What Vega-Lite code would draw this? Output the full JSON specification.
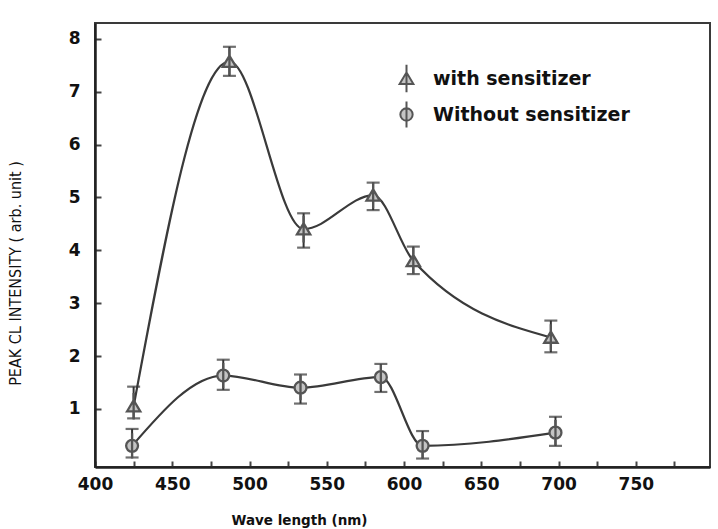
{
  "$schema": "https://vega.github.io/schema/vega-lite/v6.json",
  "width": 615,
  "height": 444,
  "autosize": "none",
  "padding": {"left": 95, "top": 23, "right": 8, "bottom": 62},
  "background": "white",
  "config": {
    "view": {"stroke": "#3a3a3a", "strokeWidth": 2},
    "axis": {"grid": false},
    "legend": {"symbolStrokeWidth": 2, "symbolSize": 210}
  },
  "data": {
    "values": [
      {"series": "with sensitizer", "wl": 425, "val": 1.05, "lo": 0.82, "hi": 1.42},
      {"series": "with sensitizer", "wl": 487, "val": 7.57, "lo": 7.3, "hi": 7.85},
      {"series": "with sensitizer", "wl": 535, "val": 4.4, "lo": 4.05, "hi": 4.7},
      {"series": "with sensitizer", "wl": 580, "val": 5.04, "lo": 4.76, "hi": 5.28},
      {"series": "with sensitizer", "wl": 606, "val": 3.8, "lo": 3.55, "hi": 4.07},
      {"series": "with sensitizer", "wl": 695, "val": 2.35, "lo": 2.07, "hi": 2.67},
      {"series": "Without sensitizer", "wl": 424, "val": 0.3, "lo": 0.08, "hi": 0.62},
      {"series": "Without sensitizer", "wl": 483, "val": 1.63, "lo": 1.36, "hi": 1.93},
      {"series": "Without sensitizer", "wl": 533, "val": 1.4, "lo": 1.1, "hi": 1.65},
      {"series": "Without sensitizer", "wl": 585, "val": 1.6, "lo": 1.32, "hi": 1.85},
      {"series": "Without sensitizer", "wl": 612, "val": 0.3, "lo": 0.06, "hi": 0.58},
      {"series": "Without sensitizer", "wl": 698, "val": 0.55, "lo": 0.3, "hi": 0.85}
    ]
  },
  "encoding": {
    "x": {
      "field": "wl", "type": "quantitative",
      "scale": {"domain": [400, 798], "nice": false, "zero": false},
      "axis": {
        "title": "Wave length (nm)",
        "values": [400, 425, 450, 475, 500, 525, 550, 575, 600, 625, 650, 675, 700, 725, 750, 775],
        "labelExpr": "datum.value % 50 == 0 && datum.value <= 750 ? datum.label : ''",
        "labelFlush": false,
        "labelFont": "DejaVu Sans", "labelFontWeight": "bold", "labelFontSize": 17, "labelColor": "#111",
        "labelPadding": 15,
        "tickSize": -6, "tickWidth": 2, "tickColor": "#444",
        "domainColor": "#222", "domainWidth": 2.5,
        "titleFont": "DejaVu Sans", "titleFontWeight": "bold", "titleFontSize": 13.5, "titleColor": "#111",
        "titleX": 204, "titleY": 53, "titleAlign": "center", "titleBaseline": "middle"
      }
    },
    "y": {
      "type": "quantitative",
      "scale": {"domain": [-0.1, 8.3], "nice": false, "zero": false},
      "axis": {
        "title": "PEAK CL INTENSITY ( arb. unit )",
        "values": [1, 2, 3, 4, 5, 6, 7, 8],
        "labelFlush": false,
        "labelFont": "DejaVu Sans", "labelFontWeight": "bold", "labelFontSize": 17, "labelColor": "#111",
        "labelPadding": 21,
        "tickSize": -6, "tickWidth": 2, "tickColor": "#444",
        "domainColor": "#222", "domainWidth": 2.5,
        "titleFont": "DejaVu Sans Condensed", "titleFontWeight": "normal",
        "titleFontSize": 16, "titleColor": "#111",
        "titleX": -80, "titleY": 250, "titleAlign": "center", "titleBaseline": "middle"
      }
    }
  },
  "layer": [
    {
      "mark": {"type": "line", "interpolate": "monotone", "color": "#3a3a3a", "strokeWidth": 2.2},
      "encoding": {"y": {"field": "val"}, "detail": {"field": "series"}}
    },
    {
      "mark": {"type": "rule", "color": "#333", "strokeWidth": 2},
      "encoding": {"y": {"field": "lo"}, "y2": {"field": "hi"}}
    },
    {
      "mark": {"type": "tick", "orient": "horizontal", "color": "#333", "size": 13, "thickness": 2.2},
      "encoding": {"y": {"field": "lo"}}
    },
    {
      "mark": {"type": "tick", "orient": "horizontal", "color": "#333", "size": 13, "thickness": 2.2},
      "encoding": {"y": {"field": "hi"}}
    },
    {
      "mark": {"type": "point", "size": 196, "strokeWidth": 2.3, "opacity": 1, "filled": false},
      "encoding": {
        "y": {"field": "val"},
        "color": {
          "field": "series", "type": "nominal",
          "scale": {"domain": ["with sensitizer", "Without sensitizer"], "range": ["#555555", "#555555"]},
          "legend": {
            "title": null, "orient": "none", "legendX": 302, "legendY": 46,
            "padding": 0, "symbolSize": 210, "symbolStrokeWidth": 2,
            "labelOffset": 17, "rowPadding": 0, "labelLimit": 0,
            "labelFont": "DejaVu Sans", "labelFontWeight": "bold", "labelFontSize": 19, "labelColor": "#111"
          }
        },
        "shape": {
          "field": "series", "type": "nominal",
          "scale": {
            "domain": ["with sensitizer", "Without sensitizer"],
            "range": ["M-0.95,0.75L0,-0.85L0.95,0.75ZM0,-1.9V1.9", "M-0.85,0A0.85,0.85 0 1,0 0.85,0A0.85,0.85 0 1,0 -0.85,0M0,-1.8V1.8"]
          },
          "legend": {
            "title": null, "orient": "none", "legendX": 302, "legendY": 46,
            "padding": 0, "symbolSize": 210, "symbolStrokeWidth": 2,
            "labelOffset": 17, "rowPadding": 0, "labelLimit": 0,
            "labelFont": "DejaVu Sans", "labelFontWeight": "bold", "labelFontSize": 19, "labelColor": "#111"
          }
        },
        "fill": {"value": "#c4c4c4"}
      }
    }
  ]
}
